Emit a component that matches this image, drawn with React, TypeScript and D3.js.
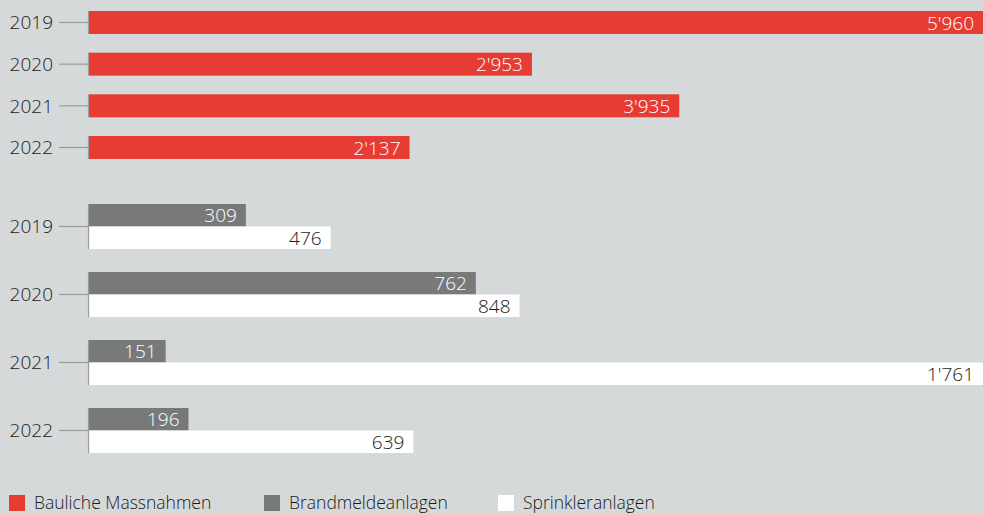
import React from "react";
import * as d3 from "d3";

const years = ["2019", "2020", "2021", "2022"];
const baulicheValues = [5960, 2953, 3935, 2137];
const brandmeldeValues = [309, 762, 151, 196];
const sprinklerValues = [476, 848, 1761, 639];
const legendLabels = ["Bauliche Massnahmen", "Brandmeldeanlagen", "Sprinkleranlagen"];

const W = 983;
const H = 514;
const BG = "#d6d9da";
const RED = "#e63c33";
const GRAY = "#777a79";
const WHITE = "#ffffff";
const TXT = "#1a1a1a";
const AXIS = "#9a9c9c";
const FONT = "'Open Sans', 'Noto Sans', sans-serif";

const locale = d3.formatLocale({ decimal: ".", thousands: "'", grouping: [3], currency: ["", ""] });
const fmt = locale.format(",d");

export default function App() {
  const x0 = 89;
  const xTop = d3.scaleLinear().domain([0, d3.max(baulicheValues)!]).range([x0, W]);
  const xBot = d3.scaleLinear().domain([0, d3.max(sprinklerValues)!]).range([x0, W]);

  const yTop = d3.scaleBand().domain(years).range([1.67, 168.3]).paddingInner(0.448).paddingOuter(0.224);
  const yBot = d3.scaleBand().domain(years).range([192.5, 464.5]).paddingInner(0.338).paddingOuter(0.169);
  const series = ["brand", "sprinkler"];
  const ySub = d3.scaleBand().domain(series).range([0, yBot.bandwidth()]);

  const fs = 19;
  const pad = 9;
  const fw = 350;

  const legendItems = [
    { label: legendLabels[0], color: RED, x: 9 },
    { label: legendLabels[1], color: GRAY, x: 264 },
    { label: legendLabels[2], color: WHITE, x: 498 },
  ];

  return (
    <svg width={W} height={H} style={{ position: "absolute", left: 0, top: 0, display: "block" }} fontFamily={FONT} fontWeight={fw}>
      <rect x={0} y={0} width={W} height={H} fill={BG} />
      {years.map((yr, i) => {
        const y = yTop(yr)!;
        const h = yTop.bandwidth();
        const xe = xTop(baulicheValues[i]);
        return (
          <g key={"t" + yr}>
            <rect x={x0} y={y} width={xe - x0} height={h} fill={RED} />
            <line x1={59} x2={x0} y1={y + h / 2} y2={y + h / 2} stroke={AXIS} strokeWidth={1.2} />
            <line x1={x0 - 0.5} x2={x0 - 0.5} y1={y} y2={y + h} stroke={AXIS} strokeWidth={1.2} />
            <text x={53} y={y + h / 2} dy="0.36em" textAnchor="end" fontSize={fs} fill={TXT}>{yr}</text>
            <text x={xe - pad} y={y + h / 2} dy="0.37em" textAnchor="end" fontSize={fs} fill={WHITE}>{fmt(baulicheValues[i])}</text>
          </g>
        );
      })}
      {years.map((yr, i) => {
        const gy = yBot(yr)!;
        const bh = ySub.bandwidth();
        const yb = gy + ySub("brand")!;
        const ys = gy + ySub("sprinkler")!;
        const xb = xBot(brandmeldeValues[i]);
        const xs = xBot(sprinklerValues[i]);
        const mid = gy + yBot.bandwidth() / 2;
        return (
          <g key={"b" + yr}>
            <rect x={x0} y={yb} width={xb - x0} height={bh} fill={GRAY} />
            <rect x={x0} y={ys} width={xs - x0} height={bh} fill={WHITE} />
            <line x1={59} x2={x0} y1={mid} y2={mid} stroke={AXIS} strokeWidth={1.2} />
            <line x1={x0 - 0.5} x2={x0 - 0.5} y1={gy} y2={gy + yBot.bandwidth()} stroke={AXIS} strokeWidth={1.2} />
            <text x={53} y={mid} dy="0.36em" textAnchor="end" fontSize={fs} fill={TXT}>{yr}</text>
            <text x={xb - pad} y={yb + bh / 2} dy="0.37em" textAnchor="end" fontSize={fs} fill={WHITE}>{fmt(brandmeldeValues[i])}</text>
            <text x={xs - pad} y={ys + bh / 2} dy="0.37em" textAnchor="end" fontSize={fs} fill={TXT}>{fmt(sprinklerValues[i])}</text>
          </g>
        );
      })}
      {legendItems.map((d) => (
        <g key={d.label}>
          <rect x={d.x} y={495} width={16} height={16} fill={d.color} />
          <text x={d.x + 25} y={503} dy="0.36em" fontSize={17.5} fill={TXT}>{d.label}</text>
        </g>
      ))}
    </svg>
  );
}
